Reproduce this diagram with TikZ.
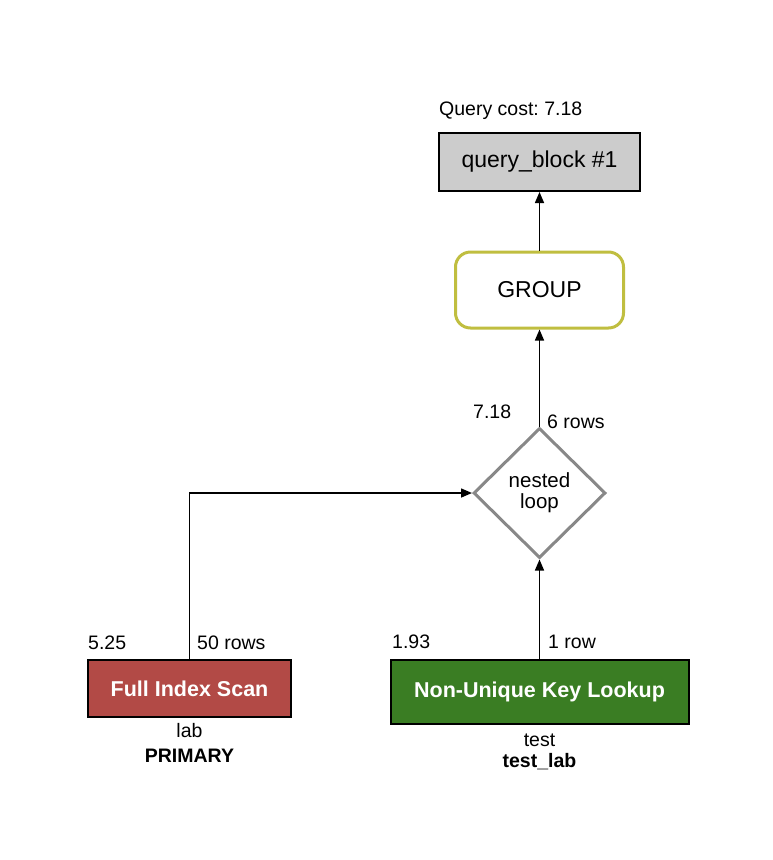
\documentclass[tikz,border=0pt]{standalone}
\usepackage{fontspec}
\setmainfont{Liberation Sans}
\frenchspacing
\usetikzlibrary{arrows.meta,shapes.geometric}
\definecolor{qgray}{RGB}{204,204,204}
\definecolor{fisred}{RGB}{178,74,70}
\definecolor{nukgreen}{RGB}{58,125,35}
\definecolor{grpolive}{RGB}{192,190,64}
\definecolor{dgray}{RGB}{136,136,136}
\begin{document}
\begin{tikzpicture}[x=1pt,y=-1pt,
  lbl/.style={inner sep=0pt,font=\fontsize{19.5}{22}\selectfont},
  boxtxt/.style={font=\fontsize{23}{26}\selectfont},
  qbox/.style={draw=black,line width=2pt,fill=qgray,minimum width=201pt,minimum height=58pt,inner sep=0pt,boxtxt},
  grpbox/.style={draw=grpolive,line width=3pt,rounded corners=15pt,fill=white,minimum width=168pt,minimum height=76pt,inner sep=0pt,boxtxt},
  loopnode/.style={diamond,draw=dgray,line width=3pt,fill=white,minimum width=132pt,minimum height=130pt,inner sep=0pt,align=center,font=\fontsize{20.5}{21}\selectfont},
  accbox/.style={draw=black,line width=2pt,inner sep=0pt,text=white,font=\fontsize{21.5}{24}\selectfont\bfseries},
  arr/.style={line width=1.5pt,-{Triangle[length=11pt,width=9pt]}}
]
\useasboundingbox (0,0) rectangle (772,860);
\node[qbox] (qb) at (539.5,162) {query\_block \#1};
\node[lbl,anchor=base west] (qc) at (439,115) {Query cost: 7.18};
\node[grpbox] (grp) at (539.5,290) {GROUP};
\node[loopnode] (nl) at (539.5,493) {nested\\loop};
\node[accbox,fill=fisred,minimum width=203pt,minimum height=57pt] (fis) at (189.5,688.5) {Full Index Scan};
\node[accbox,fill=nukgreen,minimum width=298pt,minimum height=64pt] (nuk) at (539.5,692) {Non-Unique Key Lookup};
\draw[arr] (grp.north) -- (qb.south);
\draw[arr] (nl.north) -- (grp.south);
\draw[arr] (nuk.north) -- (nl.south);
\draw[arr] (fis.north) |- (nl.west);
\node[lbl,anchor=base west] (c1) at (473,418) {7.18};
\node[lbl,anchor=base west] (r1) at (547,428) {6 rows};
\node[lbl,anchor=base west] (c2) at (88,649) {5.25};
\node[lbl,anchor=base west] (r2) at (197,649) {50 rows};
\node[lbl,anchor=base west] (c3) at (392,648) {1.93};
\node[lbl,anchor=base west] (r3) at (548,648) {1 row};
\node[lbl,anchor=base] (t1) at (189.5,737) {lab};
\node[lbl,anchor=base,font=\fontsize{19.5}{22}\selectfont\bfseries] (k1) at (189.5,762) {PRIMARY};
\node[lbl,anchor=base] (t2) at (539.5,746) {test};
\node[lbl,anchor=base,font=\fontsize{19.5}{22}\selectfont\bfseries] (k2) at (539.5,767) {test\_lab};
\end{tikzpicture}
\end{document}
